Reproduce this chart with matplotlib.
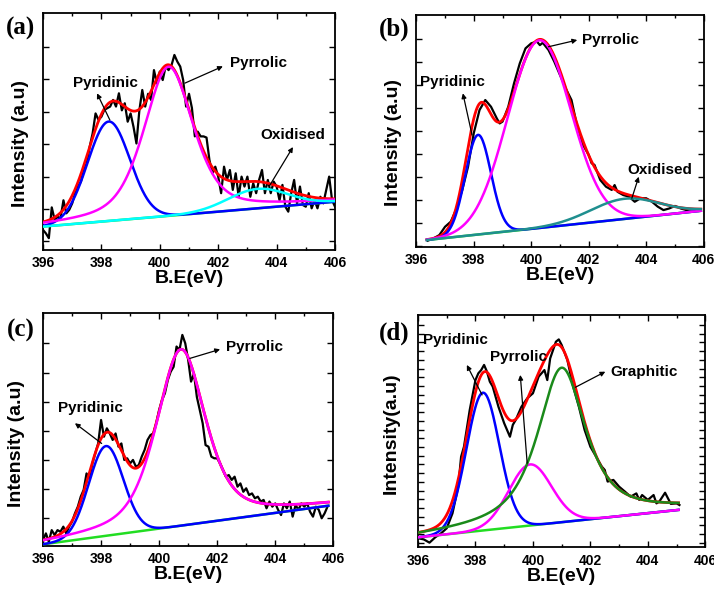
import numpy as np
import matplotlib
matplotlib.use("Agg")
import matplotlib.pyplot as plt
from matplotlib.ticker import MultipleLocator

plt.rcParams['font.family'] = ['Liberation Sans', 'DejaVu Sans']
plt.rcParams['font.weight'] = 'bold'

# ---------------- data (y in arbitrary units 0-100) ----------------
# Panel (a) raw spectrum
a_x = [396.0, 396.1, 396.2, 396.3, 396.4, 396.5, 396.6, 396.7, 396.8, 396.9,
       397.0, 397.1, 397.2, 397.3, 397.4, 397.5, 397.6, 397.7, 397.8, 397.9,
       398.0, 398.1, 398.2, 398.3, 398.4, 398.5, 398.6, 398.7, 398.8, 398.9,
       399.0, 399.1, 399.2, 399.3, 399.4, 399.5, 399.6, 399.7, 399.8, 399.9,
       400.0, 400.1, 400.2, 400.3, 400.4, 400.5, 400.6, 400.7, 400.8, 400.9,
       401.0, 401.1, 401.2, 401.3, 401.4, 401.5, 401.6, 401.7, 401.8, 401.9,
       402.0, 402.1, 402.2, 402.3, 402.4, 402.5, 402.6, 402.7, 402.8, 402.9,
       403.0, 403.1, 403.2, 403.3, 403.4, 403.5, 403.6, 403.7, 403.8, 403.9,
       404.0, 404.1, 404.2, 404.3, 404.4, 404.5, 404.6, 404.7, 404.8, 404.9,
       405.0, 405.1, 405.2, 405.3, 405.4, 405.5, 405.6, 405.7, 405.8, 405.9,
       406.0]
a_y = [8.5, 7.0, 5.0, 18.0, 12.7, 14.0, 13.4, 21.0, 15.5, 17.0,
       19.7, 24.0, 26.8, 28.9, 33.8, 36.6, 43.7, 49.3, 57.7, 55.0,
       56.3, 59.2, 59.9, 60.6, 63.4, 60.6, 66.2, 59.0, 62.0, 54.2,
       57.7, 52.0, 45.0, 59.0, 67.6, 60.6, 66.0, 63.4, 76.0, 70.4,
       75.4, 71.8, 77.5, 76.0, 78.0, 82.4, 79.6, 77.5, 71.8, 60.6,
       66.0, 60.0, 48.0, 50.0, 48.0, 48.0, 47.5, 38.0, 32.4, 35.2,
       31.0, 24.0, 35.2, 29.6, 33.8, 25.4, 32.4, 22.5, 31.0, 26.8,
       31.0, 22.5, 28.2, 24.0, 29.6, 33.8, 24.0, 29.6, 24.0, 28.9,
       26.8, 21.0, 27.5, 18.3, 16.2, 24.0, 29.6, 19.7, 26.8, 19.0,
       18.3, 24.0, 17.6, 21.0, 17.6, 22.5, 19.7, 25.4, 31.0, 21.0,
       18.3]

# Panel (b) raw spectrum
b_x = [396.4, 396.6, 396.8, 397.0, 397.2, 397.4, 397.6, 397.8, 398.0, 398.2,
       398.4, 398.6, 398.8, 398.9, 399.0, 399.2, 399.4, 399.6, 399.8, 400.0,
       400.2, 400.3, 400.4, 400.6, 400.8, 401.0, 401.2, 401.4, 401.6, 401.8,
       402.0, 402.1, 402.2, 402.4, 402.6, 402.8, 402.9, 403.0, 403.2, 403.4,
       403.6, 403.8, 404.0, 404.2, 404.4, 404.6, 404.8, 405.0, 405.2, 405.4,
       405.6, 405.8]
b_y = [2.6, 3.6, 5.0, 8.6, 10.8, 16.5, 24.5, 34.5, 49.0, 59.0,
       63.3, 60.4, 55.4, 53.2, 54.0, 60.4, 70.5, 79.1, 85.6, 87.8,
       88.5, 87.0, 88.0, 84.9, 79.9, 74.1, 68.3, 63.3, 51.8, 43.9,
       39.6, 36.0, 35.3, 28.8, 25.9, 24.5, 26.6, 23.7, 22.3, 21.6,
       19.4, 20.9, 20.9, 19.4, 17.3, 15.8, 16.5, 17.6, 16.5, 15.8,
       16.1, 15.5]

# Panel (c) raw spectrum
c_x = [396.0, 396.1, 396.2, 396.3, 396.4, 396.5, 396.6, 396.7, 396.8, 396.9,
       397.0, 397.1, 397.2, 397.3, 397.4, 397.5, 397.6, 397.7, 397.8, 397.9,
       398.0, 398.1, 398.2, 398.3, 398.4, 398.5, 398.6, 398.7, 398.8, 398.9,
       399.0, 399.1, 399.2, 399.3, 399.4, 399.5, 399.6, 399.7, 399.8, 399.9,
       400.0, 400.1, 400.2, 400.3, 400.4, 400.5, 400.6, 400.7, 400.8, 400.9,
       401.0, 401.1, 401.2, 401.3, 401.4, 401.5, 401.6, 401.7, 401.8, 401.9,
       402.0, 402.1, 402.2, 402.3, 402.4, 402.5, 402.6, 402.7, 402.8, 402.9,
       403.0, 403.1, 403.2, 403.3, 403.4, 403.5, 403.6, 403.7, 403.8, 403.9,
       404.0, 404.1, 404.2, 404.3, 404.4, 404.5, 404.6, 404.7, 404.8, 404.9,
       405.0, 405.1, 405.2, 405.3, 405.4, 405.5, 405.6, 405.7, 405.8]
c_y = [2.4, 5.3, 1.7, 6.7, 4.6, 6.7, 6.0, 8.2, 5.3, 8.2,
       10.3, 13.9, 16.8, 21.1, 24.0, 31.1, 29.0, 35.4, 39.7, 44.0,
       54.1, 46.9, 50.5, 48.3, 45.5, 48.3, 42.6, 44.0, 36.9, 37.6,
       35.4, 36.9, 34.0, 34.7, 38.3, 41.2, 45.5, 47.6, 48.3, 52.7,
       58.4, 62.7, 65.6, 71.3, 74.9, 77.0, 85.7, 84.2, 90.7, 87.1,
       80.0, 70.6, 74.0, 64.0, 58.4, 52.7, 43.3, 42.6, 38.3, 37.6,
       37.6, 35.4, 32.6, 29.7, 30.4, 28.3, 29.7, 25.4, 26.8, 23.2,
       24.7, 21.8, 22.5, 20.4, 21.1, 19.0, 19.7, 16.1, 19.0, 16.8,
       18.2, 15.4, 13.2, 18.2, 16.1, 19.0, 12.5, 17.5, 15.4, 18.2,
       16.8, 18.2, 14.6, 12.5, 16.8, 15.4, 11.8, 13.9, 16.8]

# Panel (d) raw spectrum
d_x = [396.0, 396.2, 396.4, 396.6, 396.8, 397.0, 397.2, 397.4, 397.5, 397.6,
       397.8, 398.0, 398.1, 398.2, 398.3, 398.4, 398.5, 398.6, 398.8, 399.0,
       399.2, 399.3, 399.4, 399.6, 399.8, 400.0, 400.2, 400.4, 400.5, 400.6,
       400.8, 400.9, 401.0, 401.2, 401.4, 401.6, 401.8, 402.0, 402.2, 402.4,
       402.5, 402.6, 402.8, 403.0, 403.2, 403.4, 403.6, 403.7, 403.8, 404.0,
       404.2, 404.3, 404.4, 404.6, 404.8, 405.0, 405.1]
d_y = [3.9, 3.4, 2.0, 4.3, 6.0, 8.2, 14.6, 26.1, 39.0, 43.3,
       59.1, 72.0, 74.9, 76.3, 78.5, 75.6, 71.3, 69.2, 60.5, 53.4,
       47.6, 52.7, 54.8, 60.5, 64.1, 66.3, 73.5, 76.3, 72.0, 81.3,
       88.5, 89.5, 87.1, 80.6, 69.2, 60.5, 50.5, 43.3, 39.0, 34.7,
       33.3, 28.3, 29.0, 26.1, 24.0, 21.8, 23.2, 20.4, 22.5, 20.4,
       22.5, 18.9, 19.7, 23.5, 18.7, 18.9, 18.2]

# Linear backgrounds: (x_start, x_end, y_start, y_end)
a_base = (396.0, 406.0, 9.9, 20.4)
b_base = (396.37, 405.9, 2.9, 15.5)
c_base = (396.0, 405.83, 0.6, 17.2)
d_base = (396.0, 405.07, 4.3, 16.1)

# Fitted peak parameters: centre (eV), height above background, FWHM (eV), Lorentzian fraction
a_names = ['Pyridinic', 'Pyrrolic', 'Oxidised']
a_centers = [398.25, 400.3, 403.35]
a_heights = [42.0, 63.0, 8.2]
a_fwhm = [1.7, 2.0, 2.4]
a_eta = [0.0, 0.5, 0.0]

b_names = ['Pyridinic', 'Pyrrolic', 'Oxidised']
b_centers = [398.15, 400.28, 403.25]
b_heights = [43.0, 81.0, 8.7]
b_fwhm = [1.05, 2.6, 2.8]
b_eta = [0.0, 0.0, 0.0]

c_names = ['Pyridinic', 'Pyrrolic']
c_centers = [398.17, 400.75]
c_heights = [38.6, 75.9]
c_fwhm = [1.4, 2.0]
c_eta = [0.0, 0.55]

d_names = ['Pyridinic', 'Pyrrolic', 'Graphitic']
d_centers = [398.26, 399.9, 401.0]
d_heights = [59.3, 26.3, 66.5]
d_fwhm = [1.35, 1.75, 2.0]
d_eta = [0.0, 0.0, 0.8]

x_ticks = [396, 398, 400, 402, 404, 406]
x_tick_labels = ['396', '398', '400', '402', '404', '406']
panel_tags = ['(a)', '(b)', '(c)', '(d)']
y_labels = ['Intensity (a.u)', 'Intensity (a.u)', 'Intensity (a.u)', 'Intensity(a.u)']
x_label = 'B.E(eV)'

# annotations: (text, text_x, text_y, tail_x, tail_y, head_x, head_y) in data units
a_notes = [('Pyridinic', 397.03, 70.5, 398.29, 54.9, 397.85, 66.2),
           ('Pyrrolic', 402.4, 78.9, 400.86, 70.5, 402.16, 77.6),
           ('Oxidised', 403.43, 48.5, 403.77, 27.4, 404.56, 43.5)]
b_notes = [('Pyridinic', 396.14, 71.2, 397.94, 48.2, 397.62, 66.2),
           ('Pyrrolic', 401.77, 89.2, 400.6, 86.3, 401.6, 89.2),
           ('Oxidised', 403.33, 33.1, 403.5, 20.9, 403.74, 30.2)]
c_notes = [('Pyridinic', 396.53, 59.1, 398.02, 44.0, 397.1, 52.7),
           ('Pyrrolic', 402.3, 85.7, 401.06, 80.6, 402.1, 84.5)]
d_notes = [('Pyridinic', 396.17, 89.2, 398.23, 65.6, 397.7, 78.5),
           ('Pyrrolic', 398.52, 82.0, 399.8, 36.2, 399.56, 74.2),
           ('Graphitic', 402.7, 75.6, 401.48, 68.9, 402.52, 75.6)]

# ---------------- styles / layout ----------------
a_colors = ['#0000ff', '#ff00ff', '#00ffff']
b_colors = ['#0000ff', '#ff00ff', '#1f8f8f']
c_colors = ['#0000ff', '#ff00ff']
d_colors = ['#0000ff', '#ff00ff', '#1a8a1a']

W, H = 714, 599
fig = plt.figure(figsize=(W / 100, H / 100), dpi=100)

# axes boxes in image pixels: left, top, right, bottom
boxes = [(43, 13.3, 335, 250), (416.3, 15, 703.7, 246.7),
         (43, 313.3, 333.3, 545.7), (418, 315, 705.3, 547.3)]
ylabel_x = [-0.048, -0.050, -0.062, -0.063]
ylabel_y = [0.452, 0.448, 0.44, 0.49]
tag_pos = [(-0.127, 0.985), (-0.13, 0.99), (-0.124, 0.975), (-0.136, 0.972)]
ytick_sets = [
    [3.6, 17.3, 31.0, 44.7, 58.4, 72.1, 85.8],
    [0.4, 10.3, 20.2, 30.1, 40.0, 49.9, 59.8, 69.7, 79.6, 89.5],
    [11.8, 24.4, 36.9, 49.4, 62.0, 74.5, 87.1],
    list(np.arange(95.7, 0, -3.75)),
]


def pv(x, c, h, w, eta):
    t = ((x - c) / w) ** 2
    return h * ((1 - eta) * np.exp(-4 * np.log(2) * t) + eta / (1 + 4 * t))


panels = [
    (a_x, a_y, a_base, a_centers, a_heights, a_fwhm, a_eta, a_colors, a_notes),
    (b_x, b_y, b_base, b_centers, b_heights, b_fwhm, b_eta, b_colors, b_notes),
    (c_x, c_y, c_base, c_centers, c_heights, c_fwhm, c_eta, c_colors, c_notes),
    (d_x, d_y, d_base, d_centers, d_heights, d_fwhm, d_eta, d_colors, d_notes),
]

for i, (px, py, base, cen, hei, fw, eta, cols, notes) in enumerate(panels):
    l, t, r, b = boxes[i]
    ax = fig.add_axes([l / W, (H - b) / H, (r - l) / W, (b - t) / H])
    xs = np.linspace(base[0], base[1], 600)
    bg = base[2] + (base[3] - base[2]) * (xs - base[0]) / (base[1] - base[0])
    comps = [pv(xs, c, h, w, e) for c, h, w, e in zip(cen, hei, fw, eta)]
    env = bg + np.sum(comps, axis=0)

    ax.plot(px, py, color='black', lw=1.6, zorder=2)
    ax.plot(xs, bg, color='#22dd22', lw=1.8, zorder=3)
    ax.plot(xs, env, color='#ff0000', lw=2.0, zorder=4)
    order = [1, 0] + list(range(2, len(comps)))
    for k in order:
        ax.plot(xs, bg + comps[k], color=cols[k], lw=1.8, zorder=5 + k)

    for (txt, tx, ty, x0, y0, x1, y1) in notes:
        ax.annotate('', xy=(x1, y1), xytext=(x0, y0),
                    arrowprops=dict(arrowstyle='-|>', color='black', lw=0.9,
                                    mutation_scale=7, shrinkA=0, shrinkB=0),
                    zorder=10)
        ax.text(tx, ty, txt, fontsize=11, fontweight='bold', ha='left',
                va='center', zorder=11)

    ax.set_xlim(396, 406)
    ax.set_ylim(0, 100)
    ax.set_xticks(x_ticks)
    ax.set_xticklabels(x_tick_labels)
    ax.xaxis.set_minor_locator(MultipleLocator(1))
    ax.set_yticks(ytick_sets[i])
    ax.set_yticklabels([])
    ax.tick_params(axis='both', which='both', direction='in', top=True,
                   right=True, width=1.0)
    ax.tick_params(axis='both', which='major', length=4, labelsize=10, pad=4.5)
    ax.tick_params(axis='both', which='minor', length=2.5)
    for lab in ax.get_xticklabels():
        lab.set_fontweight('bold')
    for sp in ax.spines.values():
        sp.set_linewidth(1.3)

    ax.set_xlabel(x_label, fontsize=14, fontweight='bold', labelpad=0)
    ax.set_ylabel(y_labels[i], fontsize=14, fontweight='bold')
    ax.yaxis.set_label_coords(ylabel_x[i], ylabel_y[i])
    ax.text(tag_pos[i][0], tag_pos[i][1], panel_tags[i], transform=ax.transAxes,
            fontsize=18, fontweight='bold', family='Liberation Serif',
            ha='left', va='top')

fig.savefig('out.png', dpi=100)
